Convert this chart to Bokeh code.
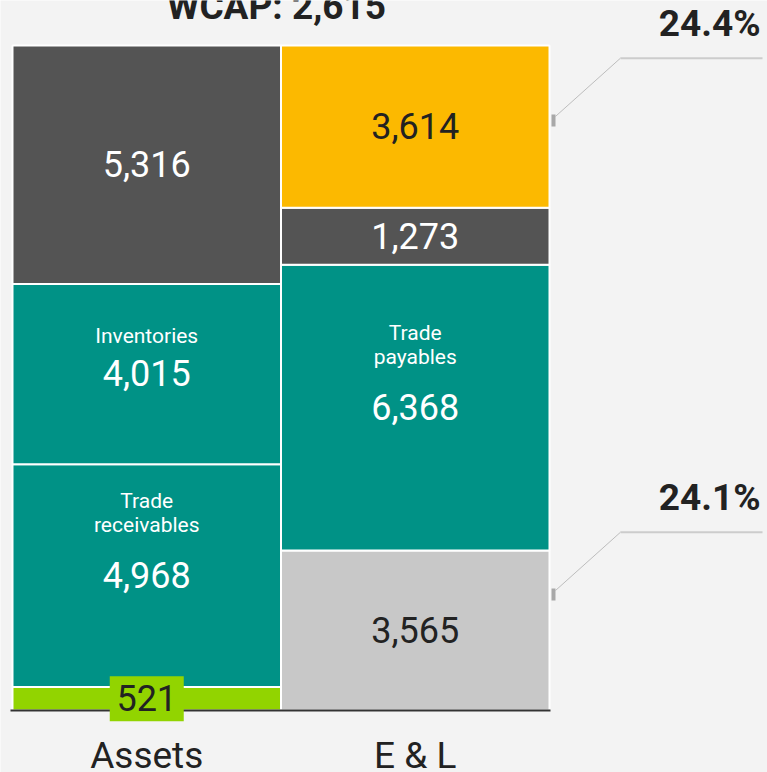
from bokeh.plotting import figure
from bokeh.models import ColumnDataSource, Range1d
from bokeh.core.properties import value
from bokeh.embed import file_html
from bokeh.resources import INLINE

# ---------------- data ----------------
categories = ["Assets", "E & L"]
assets_values = [521, 4968, 4015, 5316]
assets_names = ["", "Trade\nreceivables", "Inventories", ""]
el_values = [3565, 6368, 1273, 3614]
el_names = ["", "Trade\npayables", "", ""]
title_text = "WCAP: 2,615"
callout_blocks = [3, 0]            # E & L segments that carry a share callout
callout_points = [13150, 2585]     # value level the callout pointer marks

# ---------------- style ----------------
BG = "#f3f3f3"
DARK = "#545454"
TEAL = "#009286"
YELLOW = "#fcb900"
LIGHT = "#c8c8c8"
GREEN = "#92d400"
TXT = "#222222"
FONT = value("Roboto")
assets_colors = [GREEN, TEAL, TEAL, DARK]
el_colors = [LIGHT, TEAL, DARK, YELLOW]
assets_text_colors = [TXT, "white", "white", "white"]
el_text_colors = [TXT, "white", "white", TXT]

W, H = 767, 772
BASE_K = 0.375                 # baseline correction factor (fraction of font size)
total = sum(assets_values)
ppu = 665.0 / total            # pixels per value unit
upx = 268.5                    # pixels per category
x_start = -12.0 / upx
y_start = -62.0 / ppu


def boff(px, fs):
    """screen offset placing the alphabetic baseline px below the anchor"""
    return px - BASE_K * fs


p = figure(width=W, height=H,
           x_range=Range1d(x_start, x_start + W / upx),
           y_range=Range1d(y_start, y_start + H / ppu),
           x_axis_type=None, y_axis_type=None,
           output_backend="svg", toolbar_location=None,
           min_border=0, min_border_left=0, min_border_right=0,
           min_border_top=0, min_border_bottom=0,
           background_fill_color=BG, border_fill_color=BG,
           outline_line_color=None)
p.grid.visible = False

# ---------------- bars ----------------
bx, bb, bt, bc = [], [], [], []
num_x, num_y, num_t, num_c = [], [], [], []
name_x, name_y, name_t, name_off = [], [], [], []
mids = {}
for ci, (vals, cols, tcols, names) in enumerate(
        [(assets_values, assets_colors, assets_text_colors, assets_names),
         (el_values, el_colors, el_text_colors, el_names)]):
    base = 0
    for si, v in enumerate(vals):
        xc = ci + 0.5
        bx.append(xc); bb.append(base); bt.append(base + v); bc.append(cols[si])
        mid = base + v / 2.0
        mids[(ci, si)] = mid
        num_x.append(xc); num_y.append(mid); num_t.append(f"{v:,}"); num_c.append(tcols[si])
        if names[si]:
            lines = names[si].split("\n")
            offs = [-30.0] if len(lines) == 1 else [-67.0, -43.0]
            for ln, off in zip(lines, offs):
                name_x.append(xc); name_y.append(mid); name_t.append(ln)
                name_off.append(boff(off, 21))
        base += v

p.vbar(x="x", bottom="b", top="t", width=1.0, fill_color="c",
       line_color="white", line_width=2,
       source=ColumnDataSource(dict(x=bx, b=bb, t=bt, c=bc)))

# baseline
p.segment(x0=[-2.0 / upx], x1=[len(categories) + 1.0 / upx], y0=[0], y1=[0],
          line_color="#333333", line_width=2)

# label box for the small green segment
p.rect(x=[0.5], y=[mids[(0, 0)]], width=74, height=45,
       width_units="screen", height_units="screen",
       fill_color=GREEN, line_color=None)

# values inside blocks
p.text(x="x", y="y", text="t", text_color="c", source=ColumnDataSource(
    dict(x=num_x, y=num_y, t=num_t, c=num_c)),
    text_font=FONT, text_font_size="36px", text_align="center",
    text_baseline="alphabetic", y_offset=boff(12.8, 36))

# names inside blocks
p.text(x="x", y="y", text="t", y_offset="o", source=ColumnDataSource(
    dict(x=name_x, y=name_y, t=name_t, o=name_off)),
    text_font=FONT, text_font_size="21px", text_align="center",
    text_baseline="alphabetic", text_color="white")

# category labels
p.text(x=[i + 0.5 for i in range(len(categories))], y=[0] * len(categories),
       text=categories, text_font=FONT, text_font_size="37px",
       text_align="center", text_baseline="alphabetic", text_color=TXT,
       y_offset=boff(59, 37))

# title
p.text(x=[len(categories) / 2.0], y=[total], text=[title_text], text_font=FONT,
       text_font_size="37px", text_font_style="bold", text_align="center",
       text_baseline="alphabetic", text_color=TXT, x_offset=-4.5,
       y_offset=boff(-25, 37))

# share callouts
d_x0, d_x1, d_y0, d_y1 = [], [], [], []
h_x0, h_x1, h_y = [], [], []
lab_y, lab_t, mk_y = [], [], []
for blk, cy in zip(callout_blocks, callout_points):
    elbow = cy + 62.3 / ppu
    d_x0.append(2 + 6 / upx); d_y0.append(cy + 4 / ppu)
    d_x1.append(2 + 71 / upx); d_y1.append(elbow)
    h_x0.append(2 + 71 / upx); h_x1.append(2 + 213 / upx); h_y.append(elbow)
    lab_y.append(elbow)
    lab_t.append(f"{el_values[blk] / total * 100:.1f}%")
    mk_y.append(cy)

p.segment(x0=d_x0, x1=d_x1, y0=d_y0, y1=d_y1, line_color="#bdbdbd", line_width=1)
p.segment(x0=h_x0, x1=h_x1, y0=h_y, y1=h_y, line_color="#cccccc", line_width=2)
p.rect(x=[2 + 4 / upx] * len(mk_y), y=mk_y, width=4, height=12,
       width_units="screen", height_units="screen",
       fill_color="#a8a8a8", line_color=None)
p.text(x=[2] * len(lab_y), y=lab_y, text=lab_t, text_font=FONT,
       text_font_size="37px", text_font_style="bold", text_align="right",
       text_baseline="alphabetic", text_color=TXT, x_offset=211,
       y_offset=boff(-20.7, 37))

open("out.html", "w").write(file_html(p, INLINE))
